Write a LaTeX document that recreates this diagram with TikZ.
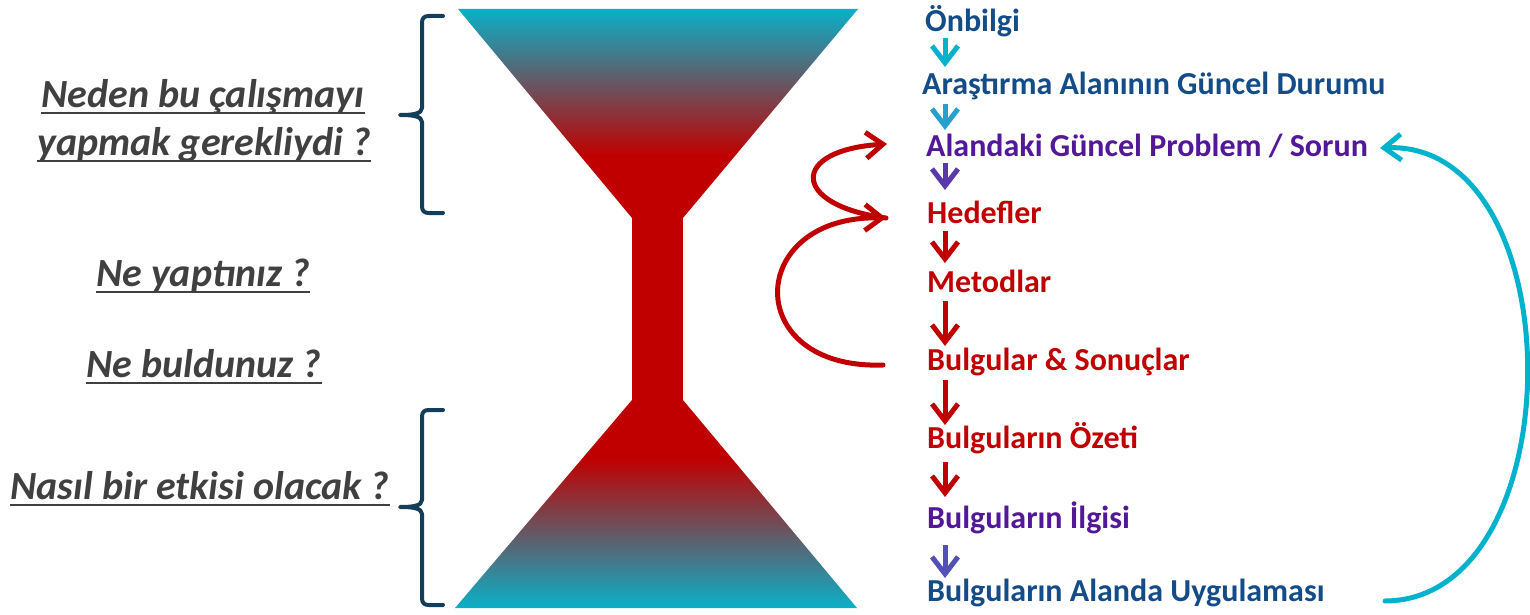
\documentclass[tikz,border=0pt]{standalone}
\usepackage{fontspec}
\setmainfont{Carlito}
\usetikzlibrary{arrows.meta}
\definecolor{hgred}{RGB}{192,0,0}
\definecolor{hgcyan}{RGB}{10,176,200}
\definecolor{dblue}{RGB}{20,76,136}
\definecolor{dpurple}{RGB}{82,24,152}
\definecolor{ccyan}{RGB}{0,178,204}
\definecolor{qgray}{RGB}{64,64,64}
\definecolor{brcol}{RGB}{18,62,90}
\definecolor{a2col}{RGB}{40,160,205}
\definecolor{a3col}{RGB}{88,56,170}
\definecolor{a8col}{RGB}{84,80,185}
\pgfdeclareverticalshading{hgtop}{100bp}{color(0bp)=(hgred); color(40bp)=(hgred); color(75bp)=(hgcyan); color(100bp)=(hgcyan)}
\pgfdeclareverticalshading{hgbot}{100bp}{color(0bp)=(hgcyan); color(25bp)=(hgcyan); color(61bp)=(hgred); color(100bp)=(hgred)}
\tikzset{
  lbl/.style={anchor=base west, inner sep=0pt, font=\fontsize{32}{38}\selectfont\bfseries},
  lq/.style={anchor=base, inner sep=0pt, text=qgray, font=\fontsize{40}{48}\selectfont\bfseries\itshape},
  uln/.style={draw=qgray, line width=2.5pt},
  brc/.style={draw=brcol, line width=4pt, line cap=round, line join=round},
  sarr/.style={line width=5pt, -{Straight Barb[length=17pt,width=26pt]}},
  bigarr/.style={line width=5pt, line cap=round, -{Straight Barb[length=17pt,width=26pt]}},
}
\begin{document}
\begin{tikzpicture}[x=1pt,y=-1pt]
\useasboundingbox (0,0) rectangle (1530,615);
% hourglass
\shade[shading=hgtop] (458,9) -- (858,9) -- (683,218) -- (632,218) -- cycle;
\fill[hgred] (632,216) rectangle (683,402);
\shade[shading=hgbot] (632,400) -- (683,400) -- (857,608) -- (455,608) -- cycle;
% braces
\draw[brc] (443,16) -- (429,16) .. controls (424,16) and (422,18) .. (422,23) -- (422,108)
  .. controls (422,114) and (412,115) .. (400,115) .. controls (412,115) and (422,116) .. (422,122)
  -- (422,206) .. controls (422,211) and (424,213) .. (429,213) -- (443,213);
\draw[brc] (443,410) -- (429,410) .. controls (424,410) and (422,412) .. (422,417) -- (422,500)
  .. controls (422,506) and (412,507) .. (400,507) .. controls (412,507) and (422,508) .. (422,514)
  -- (422,598) .. controls (422,603) and (424,605) .. (429,605) -- (443,605);
% left questions
\node[lq] (q1a) at (203,107) {Neden bu çalışmayı};
\node[lq] (q1b) at (204,155) {yapmak gerekliydi ?};
\node[lq] (q2) at (203,286) {Ne yaptınız ?};
\node[lq] (q3) at (204,377) {Ne buldunuz ?};
\node[lq] (q4) at (200,499) {Nasıl bir etkisi olacak ?};
\foreach \q in {q1a,q1b,q2,q3,q4}
  \draw[uln] ([yshift=-6pt]\q.base west) -- ([yshift=-6pt]\q.base east);
% right labels
\node[lbl, text=dblue] (n1) at (925,32) {Önbilgi};
\node[lbl, text=dblue] (n2) at (922,95) {Araştırma Alanının Güncel Durumu};
\node[lbl, text=dpurple] (n3) at (926,157) {Alandaki Güncel Problem / Sorun};
\node[lbl, text=hgred] (n4) at (927,223) {Hedefler};
\node[lbl, text=hgred] (n5) at (927,292) {Metodlar};
\node[lbl, text=hgred] (n6) at (927,370) {Bulgular \& Sonuçlar};
\node[lbl, text=hgred] (n7) at (927,448) {Bulguların Özeti};
\node[lbl, text=dpurple] (n8) at (927,528) {Bulguların İlgisi};
\node[lbl, text=dblue] (n9) at (927,601) {Bulguların Alanda Uygulaması};
% small arrows
\coordinate (a1s) at (945,38);  \coordinate (a1e) at (945,67);
\coordinate (a2s) at (945,104); \coordinate (a2e) at (945,130);
\coordinate (a3s) at (945,163); \coordinate (a3e) at (945,190);
\coordinate (a4s) at (945,231); \coordinate (a4e) at (945,263);
\coordinate (a5s) at (945,301); \coordinate (a5e) at (945,346);
\coordinate (a6s) at (945,380); \coordinate (a6e) at (945,425);
\coordinate (a7s) at (945,462); \coordinate (a7e) at (945,497);
\coordinate (a8s) at (945,545); \coordinate (a8e) at (945,578);
\draw[sarr, ccyan] (a1s) -- (a1e);
\draw[sarr, a2col] (a2s) -- (a2e);
\draw[sarr, a3col] (a3s) -- (a3e);
\draw[sarr, hgred] (a4s) -- (a4e);
\draw[sarr, hgred] (a5s) -- (a5e);
\draw[sarr, hgred] (a6s) -- (a6e);
\draw[sarr, hgred] (a7s) -- (a7e);
\draw[sarr, a8col] (a8s) -- (a8e);
% big curved arrows
\coordinate (h4) at (886,218);
\coordinate (h3) at (887,144);
\coordinate (h6) at (883,365);
\coordinate (c9) at (1385,601);
\coordinate (c3) at (1380,148);
\draw[bigarr, hgred] (h4) .. controls (790,205) and (790,150) .. (h3);
\draw[bigarr, hgred] (h6) .. controls (741,370) and (745,215) .. (h4);
\draw[bigarr, ccyan] (c9) .. controls (1575,600) and (1575,140) .. (c3);
\end{tikzpicture}
\end{document}
